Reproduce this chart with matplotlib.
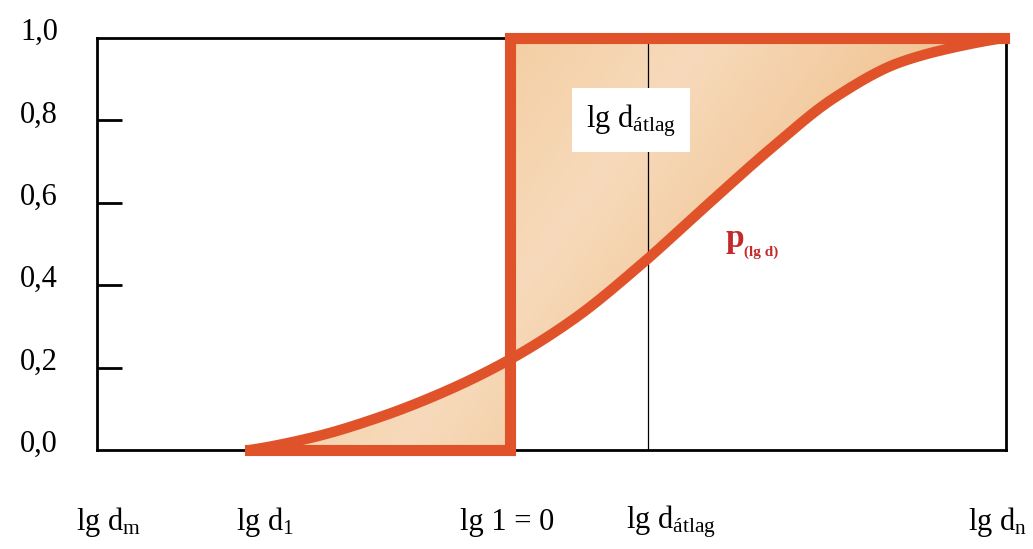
import numpy as np
import matplotlib
matplotlib.use("Agg")
import matplotlib.pyplot as plt
from matplotlib.colors import LinearSegmentedColormap
from matplotlib.path import Path
from matplotlib.patches import PathPatch

plt.rcParams["font.family"] = ["Liberation Serif", "DejaVu Serif"]
plt.rcParams["mathtext.fontset"] = "custom"
plt.rcParams["mathtext.rm"] = "Liberation Serif"
plt.rcParams["mathtext.it"] = "Liberation Serif:italic"
plt.rcParams["mathtext.bf"] = "Liberation Serif:bold"

# Cumulative distribution p(lg d) over lg d
lg_d = [-2.0, -1.5, -1.0, -0.5, 0.0, 0.5, 1.0, 1.5, 2.0, 2.5, 3.0, 3.5, 3.8]
p_lg_d = [0.0, 0.032, 0.080, 0.142, 0.220, 0.320, 0.448, 0.590, 0.730,
          0.856, 0.941, 0.983, 1.0]

lg_d_mean = 1.06          # lg d_átlag
lg_one = 0.0              # lg 1 = 0

y_ticks = [0.0, 0.2, 0.4, 0.6, 0.8, 1.0]
y_labels = ["0,0", "0,2", "0,4", "0,6", "0,8", "1,0"]

x_label_pos = [-3.085, -1.885, -0.02, 1.24, 3.75]
x_labels = [r"lg d$_{\mathrm{m}}$", r"lg d$_{\mathrm{1}}$", "lg 1 = 0",
            r"lg d$_{\mathrm{átlag}}$", r"lg d$_{\mathrm{n}}$"]

ORANGE = "#e0532a"
RED = "#c42a2c"


def pchip_path(xs, ys, n=400):
    """Shape-preserving cubic (PCHIP) rendering of a monotone curve."""
    xs = np.asarray(xs, float)
    ys = np.asarray(ys, float)
    h = np.diff(xs)
    d = np.diff(ys) / h
    m = np.zeros_like(ys)
    for k in range(1, len(xs) - 1):
        if d[k - 1] * d[k] > 0:
            w1 = 2 * h[k] + h[k - 1]
            w2 = h[k] + 2 * h[k - 1]
            m[k] = (w1 + w2) / (w1 / d[k - 1] + w2 / d[k])
    m[0] = max(0.0, ((2 * h[0] + h[1]) * d[0] - h[0] * d[1]) / (h[0] + h[1]))
    m[-1] = max(0.0, ((2 * h[-1] + h[-2]) * d[-1] - h[-1] * d[-2]) / (h[-1] + h[-2]))
    t = np.linspace(xs[0], xs[-1], n)
    idx = np.clip(np.searchsorted(xs, t) - 1, 0, len(xs) - 2)
    s = (t - xs[idx]) / h[idx]
    h00 = 2 * s**3 - 3 * s**2 + 1
    h10 = s**3 - 2 * s**2 + s
    h01 = -2 * s**3 + 3 * s**2
    h11 = s**3 - s**2
    yv = (h00 * ys[idx] + h10 * h[idx] * m[idx] + h01 * ys[idx + 1]
          + h11 * h[idx] * m[idx + 1])
    return t, yv


fig = plt.figure(figsize=(10.33, 5.49), dpi=100)
ax = fig.add_axes([97 / 1033, 99 / 549, 909 / 1033, 412 / 549])
ax.set_xlim(-3.177, 3.815)
ax.set_ylim(0, 1)

for s in ax.spines.values():
    s.set_linewidth(2.0)
    s.set_color("black")

ax.set_xticks([])
ax.set_yticks(y_ticks[1:-1])
ax.set_yticklabels([])
ax.tick_params(axis="y", direction="in", length=18, width=2, color="black")

# y-axis labels, sitting just above their tick marks
for v, lab in zip(y_ticks, y_labels):
    ax.annotate(lab, xy=(0, v), xycoords=("axes fraction", "data"),
                xytext=(-28, 4), textcoords="offset points",
                ha="right", va="center", fontsize=22, annotation_clip=False)

# x-axis labels
for xv, lab in zip(x_label_pos, x_labels):
    ax.text(xv, -0.175, lab, ha="center", va="center", fontsize=22,
            clip_on=False)

cx, cy = pchip_path(lg_d, p_lg_d)

# region between the step function and the distribution curve
verts = list(zip(cx, cy)) + [(cx[-1], 1.0), (lg_one, 1.0), (lg_one, 0.0),
                             (cx[0], 0.0), (cx[0], cy[0])]
codes = [Path.MOVETO] + [Path.LINETO] * (len(verts) - 2) + [Path.CLOSEPOLY]
patch = PathPatch(Path(verts, codes), facecolor="none", edgecolor="none")
ax.add_patch(patch)

cmap = LinearSegmentedColormap.from_list(
    "peach", ["#f8dfc3", "#f2c895", "#f7dabb", "#f0c08c", "#f8dfc4"])
gx, gy = np.meshgrid(np.linspace(0, 1, 400), np.linspace(0, 1, 200))
grad = 0.75 * gx + 0.25 * (1 - gy)
img = ax.imshow(grad, extent=(-3.177, 3.815, 0, 1), origin="lower",
                aspect="auto", cmap=cmap, zorder=1, interpolation="bilinear")
img.set_clip_path(patch)

# mean marker line
ax.axvline(lg_d_mean, color="black", lw=0.9, zorder=2)

# step function and distribution curve
ax.plot([cx[0], lg_one, lg_one, cx[-1]], [0, 0, 1, 1], color=ORANGE, lw=8,
        solid_joinstyle="miter", solid_capstyle="projecting", zorder=4,
        clip_on=False)
ax.plot(cx, cy, color=ORANGE, lw=7.5, solid_capstyle="butt", zorder=4,
        clip_on=False)

ax.text(0.93, 0.80, r"lg d$_{\mathrm{átlag}}$", ha="center", va="center",
        fontsize=22, zorder=5,
        bbox=dict(boxstyle="square,pad=0.45", facecolor="white",
                  edgecolor="none"))

ax.text(1.654, 0.493, "p", color=RED, fontsize=24, fontweight="bold",
        ha="left", va="baseline", zorder=5)
ax.text(1.80, 0.471, "(lg d)", color=RED, fontsize=11, fontweight="bold",
        ha="left", va="baseline", zorder=5)

fig.savefig("out.png", dpi=100)
